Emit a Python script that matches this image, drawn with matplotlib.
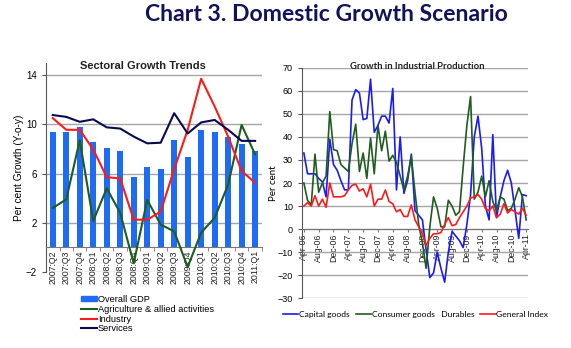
import numpy as np
import matplotlib
matplotlib.use("Agg")
from matplotlib import pyplot as plt
from matplotlib.patches import Patch
from matplotlib.lines import Line2D

# 左图：季度增长
quarters = ['2007:Q2', '2007:Q3', '2007:Q4', '2008:Q1', '2008:Q2', '2008:Q3', '2008:Q4', '2009:Q1',
            '2009:Q2', '2009:Q3', '2009:Q4', '2010:Q1', '2010:Q2', '2010:Q3', '2010:Q4', '2011:Q1']
gdp = [9.35, 9.4, 9.75, 8.55, 8.1, 7.85, 5.7, 6.5, 6.4, 8.7, 7.35, 9.55, 9.35, 8.95, 8.4, 7.85]
agri = [3.2, 3.9, 8.7, 2.15, 4.8, 2.8, -1.3, 3.85, 1.85, 1.3, -1.6, 1.2, 2.4, 5.1, 9.95, 7.55]
industry = [10.5, 9.55, 9.55, 7.95, 5.7, 5.6, 2.25, 2.25, 2.9, 6.35, 9.55, 13.7, 11.45, 9.0, 6.2, 5.25]
services = [10.75, 10.6, 10.2, 10.4, 9.75, 9.65, 9.0, 8.45, 8.5, 10.9, 9.25, 10.15, 10.35, 9.55, 8.65, 8.65]

# 右图：工业生产（月度，Apr-06 ~ Apr-11）
month_ticks = ['Apr-06', 'Aug-06', 'Dec-06', 'Apr-07', 'Aug-07', 'Dec-07', 'Apr-08', 'Aug-08',
               'Dec-08', 'Apr-09', 'Aug-09', 'Dec-09', 'Apr-10', 'Aug-10', 'Dec-10', 'Apr-11']
capital = [33, 24, 24, 24, 22, 20.5, 14, 39, 28, 25.5, 21, 17, 17, 56, 60.5, 59,
           47.5, 48, 65, 42, 45, 49, 49, 46, 61, 17, 40, 15.5, 21, 32.5, 8, 6,
           4, -9, -21, -19, -10, -17, -23, -10, -1, -3, -5, -8, 2, 15, 40, 49,
           35, 10, 4, 41, 5, 14, 21, 25.5, 20, 8, -4, 15, 14.5]
consumer = [20, 12.5, 10.5, 32.5, 16, 20, 23, 51, 34.5, 34, 28, 26.5, 25, 37, 45.5, 25,
            33, 22, 39.5, 24, 45, 34, 42.5, 29.5, 32, 29, 23, 17, 23, 31.5, 16, 2,
            -6, -17, 1, 14, 9, 1, 1, 12.5, 10, 6, 7.5, 27, 45, 57.5, 13, 16,
            23, 14, 21, 12, 8, 14, 13, 8, 9, 13, 18, 14, 4]
general = [10, 11.5, 10, 14.5, 10, 13, 9.5, 20, 14, 14, 14, 14.5, 17, 19, 19.5, 16.5,
           17.5, 14, 19.5, 10, 13, 13, 17, 12, 11, 7.5, 8.5, 5.5, 5.5, 10.5, 4, 1,
           -2, -7, -4, -2, -2, -1.5, 2, 5, 1.5, 2, 5, 7.5, 10, 13.5, 14, 15,
           13, 9, 8, 10, 5, 6.5, 11, 7, 8.5, 7.5, 6.5, 9, 6]

blue_bar = '#1e6cf5'
green = '#1f5c1f'
red = '#ff1a1a'
navy = '#0a0a50'
grid_c = '#a6a6a6'

fig = plt.figure(figsize=(5.71, 3.48), dpi=100)

fig.text(0.571, 0.957, 'Chart 3. Domestic Growth Scenario', ha='center', va='center',
         fontsize=16.6, fontweight='bold', color='#12125c', family='Lato')

# ---------------- 左图 ----------------
ax1 = fig.add_axes([0.0806, 0.2184, 0.378, 0.6014])
x = np.arange(len(quarters))
ax1.bar(x, gdp, width=0.45, color=blue_bar, zorder=2)
ax1.plot(x, agri, color=green, lw=1.5, zorder=3)
ax1.plot(x, industry, color=red, lw=1.5, zorder=3)
ax1.plot(x, services, color=navy, lw=1.5, zorder=3)
ax1.set_xlim(-0.5, len(quarters) - 0.5)
ax1.set_ylim(-2, 15)
ax1.set_yticks([-2, 2, 6, 10, 14])
ax1.grid(axis='y', color=grid_c, lw=1, zorder=0)
ax1.spines['top'].set_visible(False)
ax1.spines['right'].set_visible(False)
ax1.spines['left'].set_color('#555555')
ax1.spines['bottom'].set_position(('data', 0))
ax1.spines['bottom'].set_color('#777777')
ax1.set_xticks(x)
ax1.set_xticklabels(quarters, rotation=90, fontsize=6.3, family='Liberation Sans', color='#222222')
ax1.set_xticks(np.arange(-0.5, len(quarters)), minor=True)
ax1.tick_params(axis='x', which='major', length=0, pad=2)
ax1.tick_params(axis='x', which='minor', length=3, color='#777777')
ax1.tick_params(axis='y', labelsize=7, length=3, color='#555555')
for t in ax1.get_yticklabels():
    t.set_family('Liberation Sans')
ax1.set_ylabel('Per cent Growth (Y-o-y)', fontsize=7.3, family='Liberation Sans', labelpad=1)
fig.text(0.25, 0.81, 'Sectoral Growth Trends', ha='center', va='center',
         fontsize=8, fontweight='bold', family='Liberation Sans', color='#222222')

handles1 = [Patch(color=blue_bar), Line2D([], [], color=green, lw=1.5),
            Line2D([], [], color=red, lw=1.5), Line2D([], [], color=navy, lw=1.5)]
fig.legend(handles1, ['Overall GDP', 'Agriculture & allied activities', 'Industry', 'Services'],
           loc='upper left', bbox_to_anchor=(0.141, 0.152), frameon=False,
           prop={'family': 'Liberation Sans', 'size': 6.7}, handlelength=1.75, handleheight=0.5,
           handletextpad=0.1, labelspacing=0.08, borderpad=0, borderaxespad=0)

# ---------------- 右图 ----------------
ax2 = fig.add_axes([0.5289, 0.1428, 0.3958, 0.6626])
m = np.arange(len(capital))
ax2.plot(m, capital, color='#1a1aff', lw=1.2, zorder=3)
ax2.plot(m, consumer, color=green, lw=1.2, zorder=3)
ax2.plot(m, general, color=red, lw=1.2, zorder=3)
ax2.set_xlim(-0.5, len(capital) - 0.5)
ax2.set_ylim(-30, 70)
ax2.set_yticks(np.arange(-30, 71, 10))
ax2.grid(axis='y', color=grid_c, lw=1, zorder=0)
ax2.spines['top'].set_visible(False)
ax2.spines['right'].set_visible(False)
ax2.spines['left'].set_color('#555555')
ax2.spines['bottom'].set_position(('data', 0))
ax2.spines['bottom'].set_color('#777777')
ax2.set_xticks(np.arange(0, len(capital), 4))
ax2.set_xticklabels(month_ticks, rotation=90, fontsize=6.3, family='Liberation Sans', color='#222222')
ax2.tick_params(axis='x', length=2, pad=1, color='#777777')
ax2.tick_params(axis='y', labelsize=6.5, length=3, color='#555555')
for t in ax2.get_yticklabels():
    t.set_family('Liberation Sans')
ax2.set_ylabel('Per cent', fontsize=7, family='Lato', labelpad=0)
fig.text(0.73, 0.81, 'Growth in Industrial Production', ha='center', va='center',
         fontsize=6.8, fontweight='bold', family='Lato', color='#222222')

handles2 = [Line2D([], [], color='#1a1aff', lw=1.2), Line2D([], [], color=green, lw=1.2),
            Line2D([], [], color=red, lw=1.2)]
fig.legend(handles2, ['Capital goods', 'Consumer goods   Durables', 'General Index'],
           loc='center left', bbox_to_anchor=(0.4956, 0.0977), frameon=False, ncol=3,
           prop={'family': 'Lato', 'size': 6.1}, handlelength=1.8, handletextpad=0.1,
           columnspacing=0.7, borderpad=0, borderaxespad=0)

plt.savefig('out.png', dpi=100)
